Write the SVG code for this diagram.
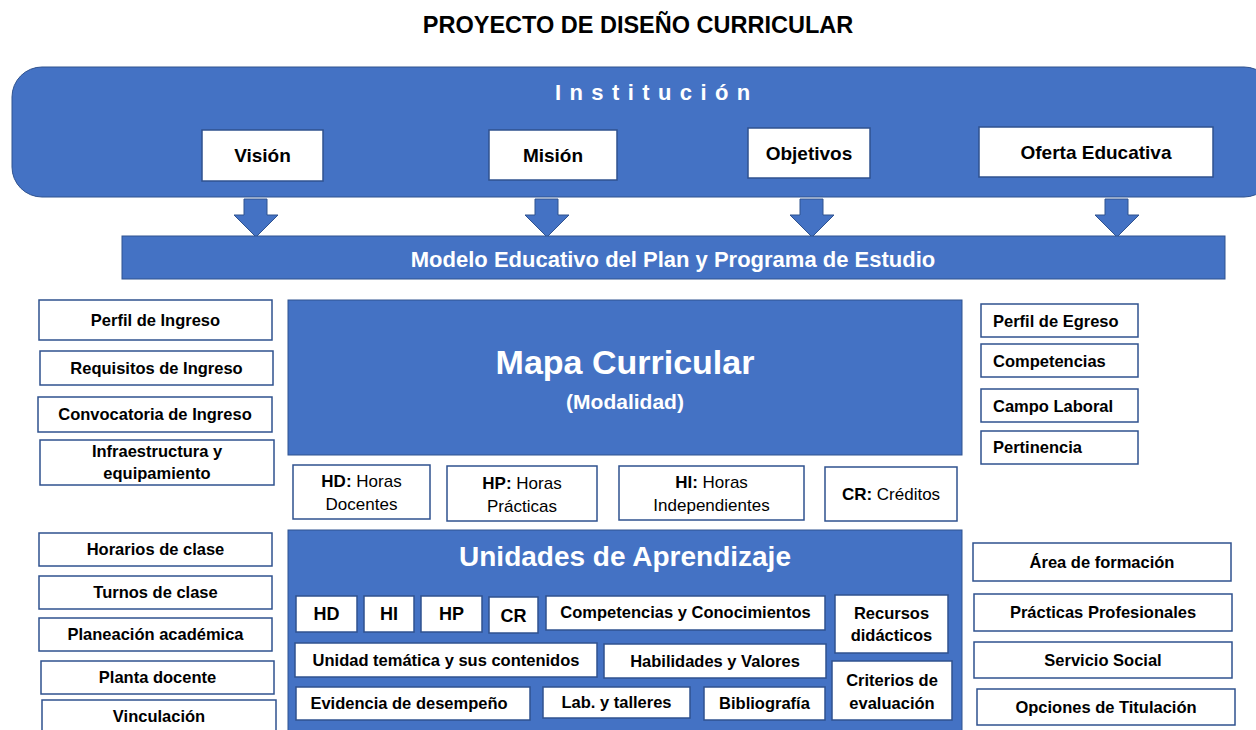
<svg xmlns="http://www.w3.org/2000/svg" width="1256" height="730" viewBox="0 0 1256 730">
<style>
text{font-family:"Liberation Sans",Arial,sans-serif;}
.blue{fill:#4472C4;stroke:#2F528F;stroke-width:1;}
.wbox{fill:#FFFFFF;stroke:#2F528F;stroke-width:1.5;}
.wt{fill:#FFFFFF;font-weight:bold;text-anchor:middle;}
.bt{fill:#000000;font-weight:bold;font-size:16.5px;text-anchor:middle;}
.bl{fill:#000000;font-weight:bold;font-size:16.5px;text-anchor:start;}
.tt{fill:#000000;font-weight:bold;font-size:19px;text-anchor:middle;}
.rt{fill:#000000;font-size:17px;text-anchor:middle;}
.ut{fill:#000000;font-weight:bold;font-size:18px;text-anchor:middle;}
.arrow{fill:#4472C4;stroke:#2F528F;stroke-width:1;}
</style>
<rect x="0" y="0" width="1256" height="730" fill="#FFFFFF"/>
<g id="title"><text x="638" y="33" style="font-size:23.5px;font-weight:bold;text-anchor:middle;fill:#000">PROYECTO DE DISEÑO CURRICULAR</text></g>

<g id="institucion">
<rect class="blue" x="12" y="67" width="1262" height="130" rx="30" ry="30"/>
<text x="555" y="100" style="fill:#fff;font-weight:bold;font-size:22px;letter-spacing:8.4px">Institución</text>
</g>
<g id="vision"><rect class="wbox" x="202" y="130" width="121" height="51"/><text class="tt" x="262.5" y="162">Visión</text></g>
<g id="mision"><rect class="wbox" x="489" y="130" width="128" height="50"/><text class="tt" x="553" y="162">Misión</text></g>
<g id="objetivos"><rect class="wbox" x="748" y="128" width="122" height="50"/><text class="tt" x="809" y="160">Objetivos</text></g>
<g id="oferta"><rect class="wbox" x="979" y="127" width="234" height="50"/><text class="tt" x="1096" y="159">Oferta Educativa</text></g>

<g id="connectors">
<polygon class="arrow" points="244,199 267,199 267,215 278,215 256,237 234,215 244,215"/>
<polygon class="arrow" points="535,199 558,199 558,215 569,215 547,237 525,215 535,215"/>
<polygon class="arrow" points="800,199 823,199 823,215 834,215 812,237 790,215 800,215"/>
<polygon class="arrow" points="1105,199 1128,199 1128,215 1139,215 1117,237 1095,215 1105,215"/>
</g>

<g id="modelo"><rect class="blue" x="122" y="236" width="1103" height="43"/><text class="wt" x="673" y="267" style="font-size:22px">Modelo Educativo del Plan y Programa de Estudio</text></g>

<g id="perfil-ingreso"><rect class="wbox" x="39" y="300" width="233" height="40"/><text class="bt" x="155.5" y="326">Perfil de Ingreso</text></g>
<g id="requisitos"><rect class="wbox" x="40" y="351" width="233" height="34"/><text class="bt" x="156.5" y="374">Requisitos de Ingreso</text></g>
<g id="convocatoria"><rect class="wbox" x="38" y="397" width="234" height="35"/><text class="bt" x="155" y="420">Convocatoria de Ingreso</text></g>
<g id="infraestructura"><rect class="wbox" x="40" y="440" width="234" height="45"/><text class="bt" x="157" y="457">Infraestructura y</text><text class="bt" x="157" y="479">equipamiento</text></g>
<g id="horarios"><rect class="wbox" x="39" y="533" width="233" height="33"/><text class="bt" x="155.5" y="555">Horarios de clase</text></g>
<g id="turnos"><rect class="wbox" x="39" y="576" width="233" height="33"/><text class="bt" x="155.5" y="598">Turnos de clase</text></g>
<g id="planeacion"><rect class="wbox" x="39" y="618" width="233" height="33"/><text class="bt" x="155.5" y="640">Planeación académica</text></g>
<g id="planta"><rect class="wbox" x="41" y="661" width="233" height="33"/><text class="bt" x="157.5" y="683">Planta docente</text></g>
<g id="vinculacion"><rect class="wbox" x="42" y="700" width="234" height="40"/><text class="bt" x="159" y="722">Vinculación</text></g>

<g id="mapa"><rect class="blue" x="288" y="300" width="674" height="155"/><text class="wt" x="625" y="374" style="font-size:34px">Mapa Curricular</text><text class="wt" x="625" y="409" style="font-size:21px">(Modalidad)</text></g>

<g id="hd-def"><rect class="wbox" x="293" y="465" width="137" height="54"/><text class="rt" x="361.5" y="487"><tspan font-weight="bold">HD:</tspan> Horas</text><text class="rt" x="361.5" y="510">Docentes</text></g>
<g id="hp-def"><rect class="wbox" x="447" y="466" width="150" height="55"/><text class="rt" x="522" y="489"><tspan font-weight="bold">HP:</tspan> Horas</text><text class="rt" x="522" y="512">Prácticas</text></g>
<g id="hi-def"><rect class="wbox" x="619" y="466" width="185" height="54"/><text class="rt" x="711.5" y="488"><tspan font-weight="bold">HI:</tspan> Horas</text><text class="rt" x="711.5" y="511">Independientes</text></g>
<g id="cr-def"><rect class="wbox" x="825" y="467" width="132" height="54"/><text class="rt" x="891" y="500"><tspan font-weight="bold">CR:</tspan> Créditos</text></g>

<g id="unidades">
<rect class="blue" x="288" y="530" width="674" height="210"/>
<text class="wt" x="625" y="566" style="font-size:28px">Unidades de Aprendizaje</text>
</g>
<g id="u-hd"><rect class="wbox" x="296" y="596" width="61" height="36"/><text class="ut" x="326.5" y="620">HD</text></g>
<g id="u-hi"><rect class="wbox" x="364" y="596" width="50" height="36"/><text class="ut" x="389" y="620">HI</text></g>
<g id="u-hp"><rect class="wbox" x="421" y="596" width="61" height="36"/><text class="ut" x="451.5" y="620">HP</text></g>
<g id="u-cr"><rect class="wbox" x="489" y="597" width="49" height="36"/><text class="ut" x="513.5" y="622">CR</text></g>
<g id="u-competencias"><rect class="wbox" x="546" y="596" width="279" height="34"/><text class="bt" x="685.5" y="618">Competencias y Conocimientos</text></g>
<g id="u-recursos"><rect class="wbox" x="835" y="595" width="113" height="58"/><text class="bt" x="891.5" y="619">Recursos</text><text class="bt" x="891.5" y="641">didácticos</text></g>
<g id="u-unidad"><rect class="wbox" x="295" y="643" width="302" height="34"/><text class="bt" x="446" y="666">Unidad temática y sus contenidos</text></g>
<g id="u-habilidades"><rect class="wbox" x="604" y="644" width="222" height="34"/><text class="bt" x="715" y="667">Habilidades y Valores</text></g>
<g id="u-criterios"><rect class="wbox" x="832" y="661" width="120" height="59"/><text class="bt" x="892" y="686">Criterios de</text><text class="bt" x="892" y="709">evaluación</text></g>
<g id="u-evidencia"><rect class="wbox" x="296" y="687" width="234" height="33"/><text class="bt" x="409" y="709">Evidencia de desempeño</text></g>
<g id="u-lab"><rect class="wbox" x="543" y="687" width="147" height="31"/><text class="bt" x="616.5" y="708">Lab. y talleres</text></g>
<g id="u-bibliografia"><rect class="wbox" x="704" y="687" width="121" height="33"/><text class="bt" x="764.5" y="709">Bibliografía</text></g>

<g id="perfil-egreso"><rect class="wbox" x="981" y="304" width="157" height="33"/><text class="bl" x="993" y="327">Perfil de Egreso</text></g>
<g id="competencias"><rect class="wbox" x="981" y="344" width="157" height="33"/><text class="bl" x="993" y="367">Competencias</text></g>
<g id="campo"><rect class="wbox" x="981" y="389" width="157" height="33"/><text class="bl" x="993" y="412">Campo Laboral</text></g>
<g id="pertinencia"><rect class="wbox" x="981" y="431" width="157" height="33"/><text class="bl" x="993" y="453">Pertinencia</text></g>
<g id="area"><rect class="wbox" x="973" y="543" width="258" height="38"/><text class="bt" x="1102" y="568">Área de formación</text></g>
<g id="practicas"><rect class="wbox" x="974" y="594" width="258" height="37"/><text class="bt" x="1103" y="618">Prácticas Profesionales</text></g>
<g id="servicio"><rect class="wbox" x="974" y="642" width="258" height="36"/><text class="bt" x="1103" y="666">Servicio Social</text></g>
<g id="opciones"><rect class="wbox" x="977" y="689" width="258" height="36"/><text class="bt" x="1106" y="713">Opciones de Titulación</text></g>
</svg>
